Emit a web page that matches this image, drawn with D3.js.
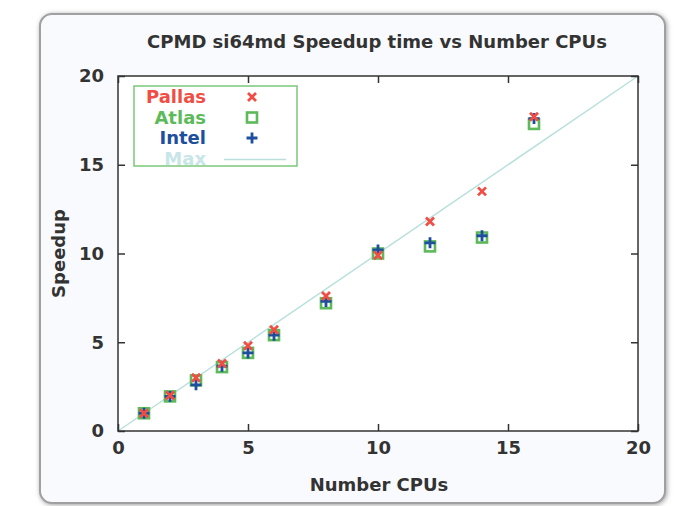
<!DOCTYPE html>
<html>
<head>
<meta charset="utf-8">
<script src="https://cdn.jsdelivr.net/npm/d3@7"></script>
<style>
  body { margin: 0; background: #fff; }
  text { font-family: "DejaVu Sans", Verdana, sans-serif; font-weight: bold; }
</style>
</head>
<body>
<div id="chart"></div>
<script>
var cpus = [1, 2, 3, 4, 5, 6, 8, 10, 12, 14, 16];
var pallas = [1.0, 2.0, 3.0, 3.8, 4.8, 5.7, 7.6, 9.9, 11.8, 13.5, 17.7];
var atlas = [1.0, 1.95, 2.85, 3.6, 4.4, 5.4, 7.2, 10.0, 10.4, 10.9, 17.3];
var intel = [1.0, 1.95, 2.6, 3.65, 4.4, 5.4, 7.3, 10.2, 10.6, 11.0, 17.6];
var maxLine = [0, 20];
var ticks = [0, 5, 10, 15, 20];

var width = 681, height = 506;
var margin = {top: 76, right: 43, bottom: 75, left: 118};

var svg = d3.select("#chart").append("svg")
    .attr("width", width)
    .attr("height", height);

// panel behind the chart
var defs = svg.append("defs");
var f = defs.append("filter").attr("id", "sh").attr("x", "-5%").attr("y", "-5%").attr("width", "110%").attr("height", "110%");
f.append("feDropShadow").attr("dx", 1).attr("dy", 1).attr("stdDeviation", 2.5).attr("flood-color", "#777").attr("flood-opacity", 0.7);

svg.append("rect")
    .attr("x", 40).attr("y", 14)
    .attr("width", 625).attr("height", 489)
    .attr("rx", 12)
    .attr("fill", "#f9fafd")
    .attr("stroke", "#a0a0a0")
    .attr("stroke-width", 2)
    .attr("filter", "url(#sh)");

var x = d3.scaleLinear().domain([0, 20]).range([margin.left, width - margin.right]);
var y = d3.scaleLinear().domain([0, 20]).range([height - margin.bottom, margin.top]);

svg.append("rect")
    .attr("x", x(0)).attr("y", y(20))
    .attr("width", x(20) - x(0)).attr("height", y(0) - y(20))
    .attr("fill", "#fff");

// max line
svg.append("line")
    .attr("x1", x(maxLine[0])).attr("y1", y(maxLine[0]))
    .attr("x2", x(maxLine[1])).attr("y2", y(maxLine[1]))
    .attr("stroke", "#b9e0dc").attr("stroke-width", 1.5);

// axes (ticks inward, mirrored)
var axisColor = "#333";
function styleAxis(g) {
    g.select(".domain").remove();
    g.selectAll(".tick line").attr("stroke", axisColor).attr("stroke-width", 1.5);
    g.selectAll(".tick text").attr("fill", "#333").style("font-size", "18px");
}
var inner = 7;
svg.append("g").attr("transform", "translate(0," + y(0) + ")")
    .call(d3.axisBottom(x).tickValues(ticks).tickSize(-inner).tickPadding(10))
    .call(styleAxis);
svg.append("g").attr("transform", "translate(0," + y(20) + ")")
    .call(d3.axisTop(x).tickValues(ticks).tickSize(-inner).tickFormat(""))
    .call(styleAxis);
svg.append("g").attr("transform", "translate(" + x(0) + ",0)")
    .call(d3.axisLeft(y).tickValues(ticks).tickSize(-inner).tickPadding(14))
    .call(styleAxis);
svg.append("g").attr("transform", "translate(" + x(20) + ",0)")
    .call(d3.axisRight(y).tickValues(ticks).tickSize(-inner).tickFormat(""))
    .call(styleAxis);

svg.append("rect")
    .attr("x", x(0)).attr("y", y(20))
    .attr("width", x(20) - x(0)).attr("height", y(0) - y(20))
    .attr("fill", "none").attr("stroke", axisColor).attr("stroke-width", 1.5);

// markers
var cRed = "#f04e45", cGreen = "#5dba5a", cBlue = "#1d4f9e", cMax = "#c8e6e8";

function drawSquare(g, px, py) {
    g.append("rect").attr("x", px - 5).attr("y", py - 5).attr("width", 10).attr("height", 10)
        .attr("fill", "none").attr("stroke", cGreen).attr("stroke-width", 2.6);
}
function drawCross(g, px, py) {
    var s = 4;
    g.append("path").attr("d", "M" + (px - s) + "," + (py - s) + "L" + (px + s) + "," + (py + s) +
        "M" + (px - s) + "," + (py + s) + "L" + (px + s) + "," + (py - s))
        .attr("stroke", cRed).attr("stroke-width", 2.8);
}
function drawPlus(g, px, py) {
    var s = 5.5;
    g.append("path").attr("d", "M" + (px - s) + "," + py + "L" + (px + s) + "," + py +
        "M" + px + "," + (py - s) + "L" + px + "," + (py + s))
        .attr("stroke", cBlue).attr("stroke-width", 2.8);
}

var pts = svg.append("g");
cpus.forEach(function(c, i) { drawSquare(pts, x(c), y(atlas[i])); });
cpus.forEach(function(c, i) { drawPlus(pts, x(c), y(intel[i])); });
cpus.forEach(function(c, i) { drawCross(pts, x(c), y(pallas[i])); });

// legend
var lg = svg.append("g");
lg.append("rect").attr("x", 134).attr("y", 86).attr("width", 163).attr("height", 80)
    .attr("fill", "#fff").attr("stroke", "#7cc77a").attr("stroke-width", 1.5);
var entries = [
    {name: "Pallas", color: cRed, draw: drawCross},
    {name: "Atlas", color: cGreen, draw: drawSquare},
    {name: "Intel", color: cBlue, draw: drawPlus},
    {name: "Max", color: cMax, draw: null}
];
entries.forEach(function(e, i) {
    var yy = 97 + i * 20.5;
    lg.append("text").attr("x", 206).attr("y", yy).attr("dy", "0.35em")
        .attr("text-anchor", "end").attr("fill", e.color).style("font-size", "18px").text(e.name);
    if (e.draw) e.draw(lg, 252, yy);
    else lg.append("line").attr("x1", 224).attr("x2", 286).attr("y1", yy + 1).attr("y2", yy + 1)
        .attr("stroke", "#b9e0dc").attr("stroke-width", 1.5);
});

// titles
svg.append("text").attr("x", 377).attr("y", 48).attr("text-anchor", "middle")
    .attr("fill", "#333").style("font-size", "18px").text("CPMD si64md Speedup time vs Number CPUs");
svg.append("text").attr("x", 379).attr("y", 491).attr("text-anchor", "middle")
    .attr("fill", "#333").style("font-size", "18px").text("Number CPUs");
svg.append("text").attr("transform", "translate(65," + y(10) + ") rotate(-90)")
    .attr("text-anchor", "middle").attr("fill", "#333").style("font-size", "18px").text("Speedup");
</script>
</body>
</html>
